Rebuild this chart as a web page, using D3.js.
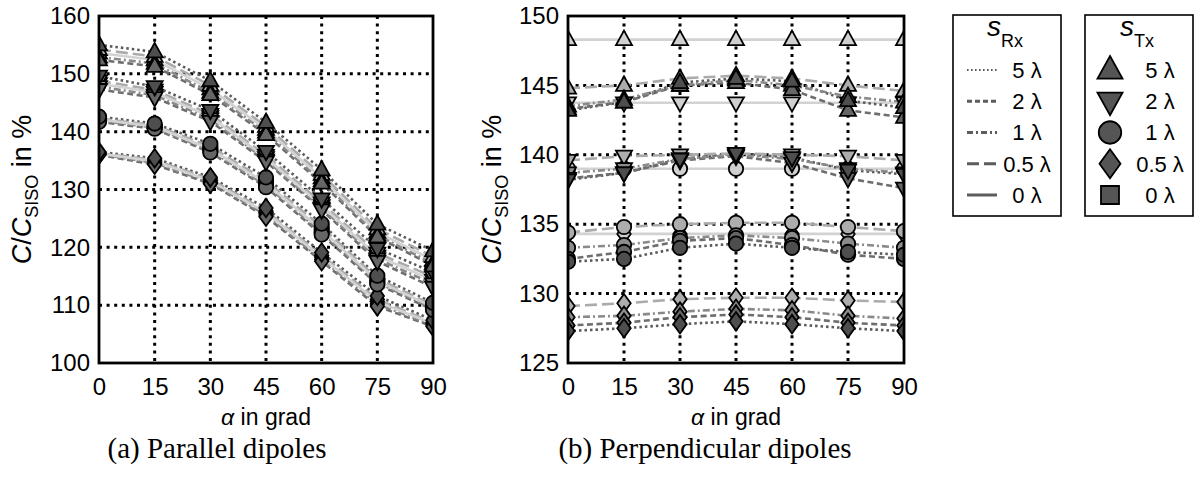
<!DOCTYPE html>
<html>
<head>
<meta charset="utf-8">
<script src="https://cdn.jsdelivr.net/npm/d3@7"></script>
<style>
  html, body { margin: 0; padding: 0; background: #fff; }
  svg { display: block; font-family: "Liberation Sans", Arial, sans-serif; }
  text { fill: #000; }
</style>
</head>
<body>
<svg id="chart" width="1197" height="477"></svg>
<script>
// ---------------- DATA ----------------
const alpha = [0, 15, 30, 45, 60, 75, 90];
const xTicks = [0, 15, 30, 45, 60, 75, 90];
const parYTicks = [100, 110, 120, 130, 140, 150, 160];
const perpYTicks = [125, 130, 135, 140, 145, 150];
const rxLabels = ["5 λ", "2 λ", "1 λ", "0.5 λ", "0 λ"];
const txLabels = ["5 λ", "2 λ", "1 λ", "0.5 λ", "0 λ"];
const txShapes = ["up", "down", "circle", "diamond", "square"];

// (a) Parallel dipoles: rows = s_Rx 5λ, 2λ, 1λ, 0.5λ, 0λ
const parTx5 = [
  [155.0, 153.8, 148.8, 141.6, 133.4, 124.0, 119.4],
  [152.4, 151.3, 146.4, 139.5, 131.1, 121.8, 116.8],
  [152.9, 151.8, 146.8, 139.9, 131.5, 122.1, 117.2],
  [154.2, 153.0, 148.0, 140.9, 132.6, 123.2, 118.4],
  [153.6, 152.4, 147.4, 140.4, 132.0, 122.6, 117.8]
];
const parTx2 = [
  [149.6, 147.8, 143.7, 136.6, 128.4, 119.8, 115.7],
  [147.3, 145.9, 141.8, 134.8, 126.5, 117.6, 113.1],
  [147.8, 146.3, 142.2, 135.1, 126.8, 118.0, 113.7],
  [148.8, 147.2, 143.0, 135.9, 127.7, 119.0, 114.9],
  [148.3, 146.8, 142.6, 135.5, 127.2, 118.5, 114.3]
];
const parTx1 = [
  [142.6, 141.4, 137.9, 132.1, 124.1, 115.1, 110.4],
  [141.7, 140.5, 136.4, 130.4, 122.2, 113.6, 109.2],
  [141.9, 140.7, 136.7, 130.7, 122.6, 113.9, 109.4],
  [142.3, 141.1, 137.4, 131.5, 123.5, 114.6, 110.0],
  [142.1, 140.9, 137.0, 131.1, 123.0, 114.2, 109.7]
];
const parTx05 = [
  [136.5, 135.4, 132.1, 126.8, 119.1, 111.6, 107.4],
  [136.0, 134.3, 131.0, 125.3, 117.6, 109.8, 106.3],
  [136.1, 134.6, 131.2, 125.6, 117.9, 110.2, 106.5],
  [136.3, 135.1, 131.8, 126.3, 118.6, 111.0, 107.0],
  [136.2, 134.9, 131.5, 126.0, 118.3, 110.6, 106.8]
];

// (b) Perpendicular dipoles
const perpTx5 = [
  [143.2, 143.8, 145.2, 145.5, 145.3, 143.9, 143.4],
  [143.3, 143.8, 145.0, 145.2, 144.7, 143.2, 142.7],
  [143.5, 144.0, 145.0, 145.4, 145.0, 144.2, 143.8],
  [144.8, 145.0, 145.5, 145.7, 145.5, 145.0, 144.6],
  [148.3, 148.3, 148.3, 148.3, 148.3, 148.3, 148.3]
];
const perpTx2 = [
  [138.2, 138.7, 139.7, 140.1, 139.8, 138.9, 138.6],
  [138.3, 138.7, 139.6, 139.9, 139.4, 138.3, 137.6],
  [138.7, 139.0, 139.7, 140.0, 139.7, 139.0, 138.7],
  [139.6, 139.9, 140.0, 140.1, 140.0, 139.9, 139.6],
  [143.75, 143.75, 143.75, 143.75, 143.75, 143.75, 143.75]
];
const perpTx1 = [
  [132.3, 132.5, 133.3, 133.6, 133.3, 133.0, 132.8],
  [132.5, 133.0, 133.8, 134.0, 133.5, 132.8, 132.5],
  [133.3, 133.5, 134.0, 134.2, 134.0, 133.6, 133.3],
  [134.4, 134.8, 135.0, 135.1, 135.1, 134.8, 134.5],
  [139.0, 139.0, 139.0, 139.0, 139.0, 139.0, 139.0]
];
const perpTx05 = [
  [127.3, 127.5, 127.8, 128.0, 127.8, 127.5, 127.3],
  [127.7, 127.9, 128.3, 128.5, 128.3, 127.9, 127.7],
  [128.3, 128.4, 128.7, 128.9, 128.8, 128.4, 128.2],
  [129.1, 129.3, 129.6, 129.7, 129.7, 129.5, 129.4],
  [134.3, 134.3, 134.3, 134.3, 134.3, 134.3, 134.3]
];

// ---------------- STYLES ----------------
const rxStroke = ["#5a5a5a", "#6e6e6e", "#8a8a8a", "#ababab", "#d2d2d2"];
const rxFill   = ["#4e4e4e", "#666666", "#8c8c8c", "#adadad", "#d0d0d0"];
const rxDash   = ["2.5,3", "6,3.5", "7,3,2,3", "12,5", null];
const legendDash = ["1.6,2.4", "5,3", "6,3,2,3", "12,5", null];

// ---------------- HELPERS ----------------
function markerPath(shape, cx, cy, s) {
  const p = d3.path();
  if (shape === "up") {
    const h = s * 0.9;
    p.moveTo(cx, cy - h * 0.62); p.lineTo(cx + s / 2, cy + h * 0.38); p.lineTo(cx - s / 2, cy + h * 0.38); p.closePath();
  } else if (shape === "down") {
    const h = s * 0.9;
    p.moveTo(cx, cy + h * 0.62); p.lineTo(cx + s / 2, cy - h * 0.38); p.lineTo(cx - s / 2, cy - h * 0.38); p.closePath();
  } else if (shape === "circle") {
    p.arc(cx, cy, s * 0.45, 0, 2 * Math.PI); p.closePath();
  } else if (shape === "diamond") {
    p.moveTo(cx, cy - s * 0.58); p.lineTo(cx + s * 0.42, cy); p.lineTo(cx, cy + s * 0.58); p.lineTo(cx - s * 0.42, cy); p.closePath();
  } else {
    p.rect(cx - s * 0.36, cy - s * 0.36, s * 0.72, s * 0.72);
  }
  return p.toString();
}

const svg = d3.select("#chart");

function drawPanel(cfg) {
  const { left, right, top, bottom, domain, yTicks, groups, id, caption, ylabelX } = cfg;
  const x = d3.scaleLinear().domain([0, 90]).range([left, right]);
  const y = d3.scaleLinear().domain(domain).range([bottom, top]);
  const g = svg.append("g");

  g.append("clipPath").attr("id", id).append("rect")
    .attr("x", left).attr("y", top).attr("width", right - left).attr("height", bottom - top);

  // grid
  const grid = g.append("g");
  grid.selectAll("line.v").data(xTicks.slice(1, -1)).join("line")
    .attr("x1", d => x(d)).attr("x2", d => x(d)).attr("y1", top).attr("y2", bottom)
    .attr("stroke", "#000").attr("stroke-width", 3).attr("stroke-dasharray", "3,4.6");
  grid.selectAll("line.h").data(yTicks.slice(1, -1)).join("line")
    .attr("x1", left).attr("x2", right).attr("y1", d => y(d)).attr("y2", d => y(d))
    .attr("stroke", "#000").attr("stroke-width", 3).attr("stroke-dasharray", "3,4.6");

  const data = g.append("g").attr("clip-path", `url(#${id})`);
  const line = d3.line().x((d, i) => x(alpha[i])).y(d => y(d));

  // lines
  groups.forEach(grp => {
    grp.rows.forEach((row, r) => {
      data.append("path").attr("d", line(row))
        .attr("fill", "none").attr("stroke", rxStroke[r]).attr("stroke-width", 2.6)
        .attr("stroke-dasharray", rxDash[r]);
    });
  });
  // markers (light first, dark last)
  groups.forEach(grp => {
    [4, 3, 2, 1, 0].forEach(r => {
      grp.rows[r].forEach((v, i) => {
        data.append("path").attr("d", markerPath(grp.shape, x(alpha[i]), y(v), 16))
          .attr("fill", rxFill[r]).attr("stroke", "#000").attr("stroke-width", 1.8)
          .attr("stroke-linejoin", "miter");
      });
    });
  });

  // frame
  g.append("rect").attr("x", left).attr("y", top).attr("width", right - left).attr("height", bottom - top)
    .attr("fill", "none").attr("stroke", "#000").attr("stroke-width", 2.8);

  // axes (tick labels via d3 axes)
  const xAxis = d3.axisBottom(x).tickValues(xTicks).tickSize(0).tickPadding(15);
  const gx = g.append("g").attr("transform", `translate(0,${bottom})`).call(xAxis);
  gx.select(".domain").remove();
  gx.selectAll("text").attr("font-size", 24).style("font-family", "Liberation Sans, Arial, sans-serif").attr("fill", "#000");

  const yAxis = d3.axisLeft(y).tickValues(yTicks).tickSize(0).tickPadding(9);
  const gy = g.append("g").attr("transform", `translate(${left},0)`).call(yAxis);
  gy.select(".domain").remove();
  gy.selectAll("text").attr("font-size", 24).style("font-family", "Liberation Sans, Arial, sans-serif").attr("fill", "#000");

  // x label
  const xl = g.append("text").attr("x", (left + right) / 2).attr("y", 425).attr("text-anchor", "middle").attr("font-size", 23);
  xl.append("tspan").attr("font-style", "italic").text("α");
  xl.append("tspan").text(" in grad");

  // y label
  const yl = g.append("text").attr("transform", `translate(${ylabelX},${(top + bottom) / 2}) rotate(-90)`)
    .attr("text-anchor", "middle").attr("font-size", 27);
  yl.append("tspan").attr("font-style", "italic").text("C");
  yl.append("tspan").text("/");
  yl.append("tspan").attr("font-style", "italic").text("C");
  yl.append("tspan").attr("font-size", 18).attr("dy", 7).text("SISO");
  yl.append("tspan").attr("dy", -7).text(" in %");

  // caption
  g.append("text").attr("x", cfg.captionX).attr("y", 458).attr("text-anchor", "middle")
    .style("font-family", "'Liberation Serif', 'Times New Roman', serif").attr("font-size", 29).text(caption);
}

drawPanel({
  id: "clipA", left: 99, right: 433, top: 16, bottom: 363, domain: [100, 160], yTicks: parYTicks,
  groups: [
    { shape: "diamond", rows: parTx05 }, { shape: "circle", rows: parTx1 },
    { shape: "down", rows: parTx2 }, { shape: "up", rows: parTx5 }
  ],
  caption: "(a) Parallel dipoles", captionX: 217, ylabelX: 31
});
drawPanel({
  id: "clipB", left: 568, right: 904, top: 16, bottom: 363, domain: [125, 150], yTicks: perpYTicks,
  groups: [
    { shape: "diamond", rows: perpTx05 }, { shape: "circle", rows: perpTx1 },
    { shape: "down", rows: perpTx2 }, { shape: "up", rows: perpTx5 }
  ],
  caption: "(b) Perpendicular dipoles", captionX: 705, ylabelX: 501
});

// ---------------- LEGENDS ----------------
const rowY = d3.scalePoint().domain(d3.range(5)).range([70, 195]);

function legendBox(x0, x1, sub) {
  const g = svg.append("g");
  g.append("rect").attr("x", x0).attr("y", 15).attr("width", x1 - x0).attr("height", 201)
    .attr("fill", "#fff").attr("stroke", "#000").attr("stroke-width", 1.6);
  const t = g.append("text").attr("x", (x0 + x1) / 2 - 2).attr("y", 36).attr("text-anchor", "middle").attr("font-size", 28);
  t.append("tspan").attr("font-style", "italic").text("s");
  t.append("tspan").attr("font-size", 18).attr("dy", 11).text(sub);
  return g;
}

const lg1 = legendBox(953, 1061, "Rx");
rxLabels.forEach((lab, i) => {
  lg1.append("line").attr("x1", 967).attr("x2", 997).attr("y1", rowY(i)).attr("y2", rowY(i))
    .attr("stroke", "#5c5c5c").attr("stroke-width", i === 0 ? 2 : 3).attr("stroke-dasharray", legendDash[i]);
  lg1.append("text").attr("x", 1027).attr("y", rowY(i)).attr("dy", "0.36em").attr("text-anchor", "middle")
    .attr("font-size", 22).text(lab);
});

const lg2 = legendBox(1085, 1193, "Tx");
txLabels.forEach((lab, i) => {
  lg2.append("path").attr("d", markerPath(txShapes[i], 1110, rowY(i), 25))
    .attr("fill", "#555").attr("stroke", "#000").attr("stroke-width", 1.8);
  lg2.append("text").attr("x", 1160).attr("y", rowY(i)).attr("dy", "0.36em").attr("text-anchor", "middle")
    .attr("font-size", 22).text(lab);
});
</script>
</body>
</html>
